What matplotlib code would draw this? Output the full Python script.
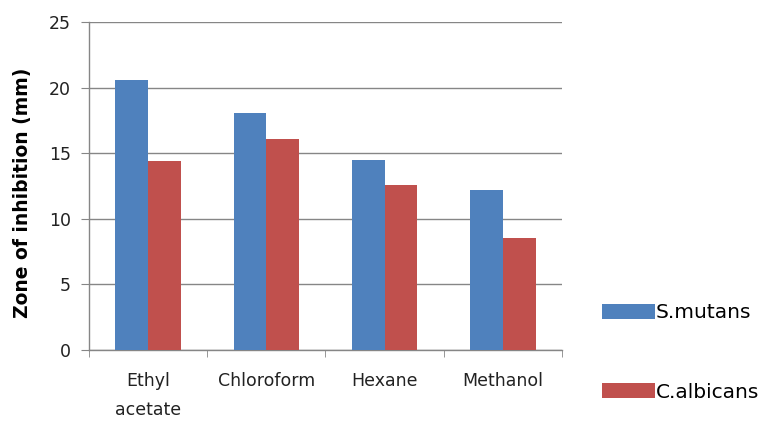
import matplotlib.pyplot as plt
import numpy as np
from matplotlib.patches import Patch
from matplotlib.ticker import FixedLocator

plt.rcParams['font.family'] = ['DejaVu Sans']

solvents = ['Ethyl\nacetate', 'Chloroform', 'Hexane', 'Methanol']
s_mutans = [20.6, 18.1, 14.5, 12.2]
c_albicans = [14.4, 16.1, 12.6, 8.5]

blue = '#4F81BD'
red = '#C0504D'
grey = '#868686'

fig = plt.figure(figsize=(7.76, 4.23), dpi=100)
ax = fig.add_axes([0.1147, 0.1726, 0.6095, 0.7754])

x = np.arange(len(solvents))
w = 0.277
ax.bar(x - w / 2, s_mutans, width=w, color=blue, zorder=3)
ax.bar(x + w / 2, c_albicans, width=w, color=red, zorder=3)

ax.set_xlim(-0.5, len(solvents) - 0.5)
ax.set_ylim(0, 25)
ax.set_yticks(np.arange(0, 26, 5))
ax.set_xticks(x)
ax.set_xticklabels(solvents, fontsize=12.5, color='#222222', linespacing=1.75)
ax.tick_params(axis='x', length=0, pad=16)
ax.xaxis.set_minor_locator(FixedLocator(np.arange(-0.5, len(solvents), 1.0)))
ax.tick_params(axis='x', which='minor', length=5, color=grey, direction='out')
ax.tick_params(axis='y', length=6, color=grey, pad=7, labelsize=12.5, labelcolor='#222222')

ax.grid(axis='y', color=grey, linewidth=1.0, zorder=0)
for side in ['top', 'right']:
    ax.spines[side].set_visible(False)
for side in ['left', 'bottom']:
    ax.spines[side].set_color(grey)
    ax.spines[side].set_linewidth(1.0)

ax.set_ylabel('Zone of inhibition (mm)', fontsize=13.5, fontweight='bold')
ax.yaxis.set_label_coords(-0.12, 0.48)

handles = [Patch(facecolor=blue, label='S.mutans'),
           Patch(facecolor=red, label='C.albicans')]
fig.legend(handles=handles, loc='upper left', bbox_to_anchor=(0.766, 0.302),
           frameon=False, fontsize=14.5, handlelength=2.6, handleheight=0.75,
           handletextpad=0.05, labelspacing=3.0, borderaxespad=0)

plt.savefig('out.png', dpi=100, facecolor='white')
plt.close()
